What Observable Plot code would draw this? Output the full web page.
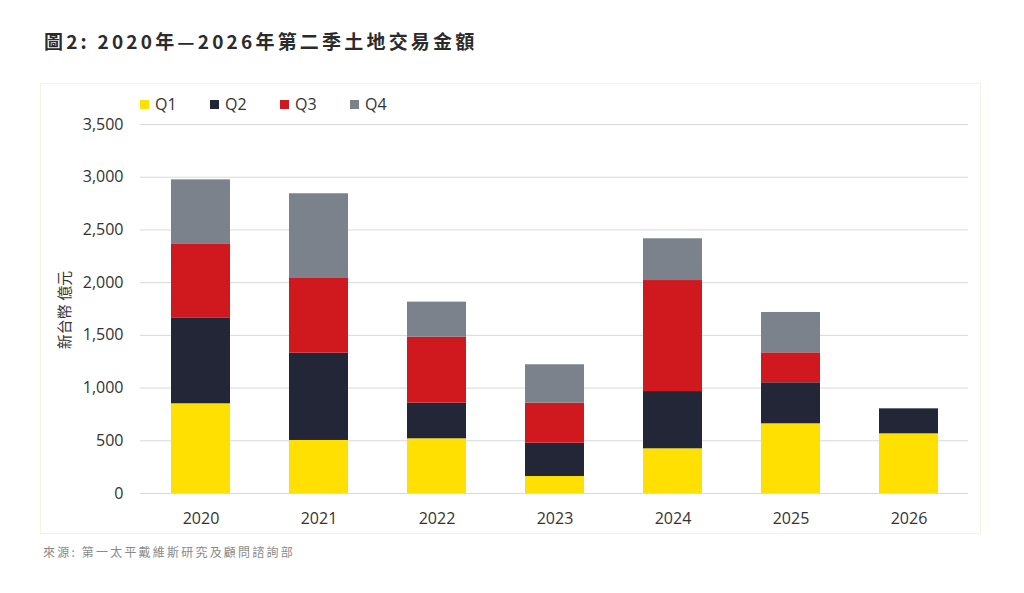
<!DOCTYPE html>
<html>
<head>
<meta charset="utf-8">
<script src="https://cdn.jsdelivr.net/npm/d3@7"></script>
<script src="https://cdn.jsdelivr.net/npm/@observablehq/plot@0.6"></script>
<style>
  html, body { margin: 0; padding: 0; background: #fff; }
  #wrap { position: relative; width: 1024px; height: 593px; font-family: "Open Sans", "Noto Sans CJK TC", sans-serif; color: #333; }
  #title { position: absolute; left: 44px; top: 27px; font-size: 19px; font-weight: bold; letter-spacing: 3.2px; color: #2b2b2b; font-family: "Noto Sans CJK TC", sans-serif; white-space: nowrap; }
  #frame { position: absolute; left: 40px; top: 83px; width: 941px; height: 451px; border: 1px solid #f6f2e2; box-sizing: border-box; }
  #chart { position: absolute; left: 0; top: 0; }
  #legend { position: absolute; left: 140px; top: 93px; display: flex; font-size: 16px; color: #333; }
  #legend .item { display: flex; align-items: center; width: 70px; }
  #legend .sw { width: 9px; height: 9px; margin-right: 6px; }
  #ylabel { position: absolute; left: 63px; top: 310px; transform: translate(-50%, -50%) rotate(-90deg); font-size: 15px; white-space: nowrap; color: #333; font-family: "Noto Sans CJK TC", sans-serif; }
  #caption { position: absolute; left: 43px; top: 543px; font-size: 12px; letter-spacing: 2.2px; color: #8a8a8a; font-family: "Noto Sans CJK TC", sans-serif; white-space: nowrap; }
</style>
</head>
<body>
<div id="wrap">
  <div id="title">圖2: 2020年—2026年第二季土地交易金額</div>
  <div id="frame"></div>
  <div id="chart"></div>
  <div id="legend"></div>
  <div id="ylabel">新台幣 億元</div>
  <div id="caption">來源: 第一太平戴維斯研究及顧問諮詢部</div>
</div>
<script>
const years = ["2020", "2021", "2022", "2023", "2024", "2025", "2026"];
const quarters = ["Q1", "Q2", "Q3", "Q4"];
const q1 = [851, 503, 519, 161, 424, 661, 566];
const q2 = [815, 828, 338, 316, 543, 389, 237];
const q3 = [702, 715, 626, 380, 1053, 284, null];
const q4 = [607, 797, 332, 364, 396, 383, null];
const colors = ["#FFE000", "#232637", "#D0191F", "#7B828B"];
const yTicks = [0, 500, 1000, 1500, 2000, 2500, 3000, 3500];

const series = [q1, q2, q3, q4];
const data = [];
years.forEach((y, i) => {
  quarters.forEach((q, j) => {
    const v = series[j][i];
    if (v != null) data.push({year: y, quarter: q, value: v});
  });
});

const chart = Plot.plot({
  width: 1024,
  height: 540,
  marginLeft: 140,
  marginRight: 56,
  marginTop: 124,
  marginBottom: 47,
  style: {fontFamily: "'Open Sans', 'Noto Sans CJK TC', sans-serif", fontSize: "16px", color: "#333", background: "transparent"},
  x: {domain: years, paddingInner: 0.5, paddingOuter: 0.25, label: null, tickSize: 0, tickPadding: 19},
  y: {domain: [0, 3500], ticks: yTicks, tickFormat: d3.format(","), label: null, tickSize: 0, tickPadding: 17},
  color: {domain: quarters, range: colors},
  marks: [
    Plot.ruleY(yTicks, {stroke: "#d9d9d9", strokeWidth: 1}),
    Plot.barY(data, {x: "year", y: "value", fill: "quarter", order: quarters})
  ]
});
document.getElementById("chart").appendChild(chart);

const legend = document.getElementById("legend");
quarters.forEach((q, i) => {
  const item = document.createElement("div");
  item.className = "item";
  const sw = document.createElement("span");
  sw.className = "sw";
  sw.style.background = colors[i];
  const t = document.createElement("span");
  t.textContent = q;
  item.appendChild(sw);
  item.appendChild(t);
  legend.appendChild(item);
});
</script>
</body>
</html>
